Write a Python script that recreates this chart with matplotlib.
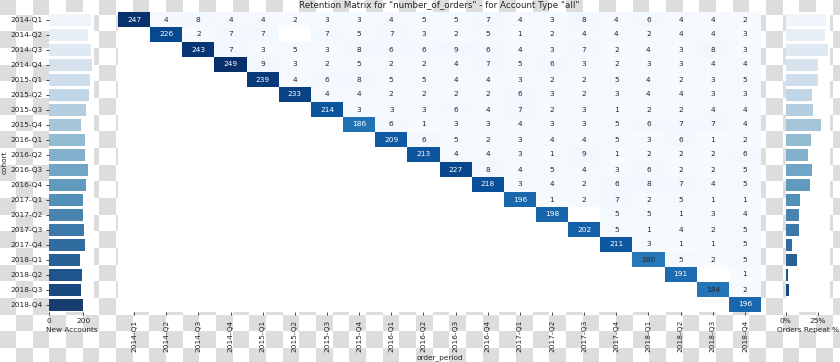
import colorsys
import numpy as np
import matplotlib
matplotlib.use("Agg")
import matplotlib.pyplot as plt
from matplotlib.ticker import FuncFormatter

periods = [f"{y}-Q{q}" for y in range(2014, 2019) for q in range(1, 5)]
cohorts = list(periods)
nan = np.nan

# each row starts at the cohort's own period
rows = [
    [247, 4, 8, 4, 4, 2, 3, 3, 4, 5, 5, 7, 4, 3, 8, 4, 6, 4, 4, 2],
    [226, 2, 7, 7, nan, 7, 5, 7, 3, 2, 5, 1, 2, 4, 4, 2, 4, 4, 3],
    [243, 7, 3, 5, 3, 8, 6, 6, 9, 6, 4, 3, 7, 2, 4, 3, 8, 3],
    [249, 9, 3, 2, 5, 2, 2, 4, 7, 5, 6, 3, 2, 3, 3, 4, 4],
    [239, 4, 6, 8, 5, 5, 4, 4, 3, 2, 2, 5, 4, 2, 3, 5],
    [233, 4, 4, 2, 2, 2, 2, 6, 3, 2, 3, 4, 4, 3, 3],
    [214, 3, 3, 3, 6, 4, 7, 2, 3, 1, 2, 2, 4, 4],
    [186, 6, 1, 3, 3, 4, 3, 3, 5, 6, 7, 7, 4],
    [209, 6, 5, 2, 3, 4, 4, 5, 3, 6, 1, 2],
    [213, 4, 4, 3, 1, 9, 1, 2, 2, 2, 6],
    [227, 8, 4, 5, 4, 3, 6, 2, 2, 5],
    [218, 3, 4, 2, 6, 8, 7, 4, 5],
    [196, 1, 2, 7, 2, 5, 1, 1],
    [198, nan, 5, 5, 1, 3, 4],
    [202, 5, 1, 4, 2, 5],
    [211, 3, 1, 1, 5],
    [180, 5, 2, 5],
    [191, nan, 1],
    [184, 2],
    [196],
]

new_accounts = [r[0] for r in rows]
repeat_pct = [31.3, 30.3, 32.6, 24.7, 25.2, 20.4, 21.4, 27.0, 19.6, 17.3,
              20.1, 19.1, 10.9, 9.9, 10.4, 4.6, 8.4, 1.8, 2.3, 0.5]

n = len(periods)
M = np.full((n, n), np.nan)
for i, r in enumerate(rows):
    M[i, i:i + len(r)] = r

W, H = 840, 362
fig = plt.figure(figsize=(W / 100, H / 100), dpi=100)
fig.patch.set_alpha(0)

# transparent-background checkerboard
sq = 16.667
x0, y0 = -0.5, -2.0
nc, nr = int(np.ceil(W / sq)) + 2, int(np.ceil(H / sq)) + 2
chk = (np.add.outer(np.arange(nr), np.arange(nc)) % 2 == 0)
img = np.where(chk[..., None], np.array([0.867, 0.867, 0.867]), np.array([1.0, 1.0, 1.0]))
bg = fig.add_axes([0, 0, 1, 1], zorder=-10)
bg.imshow(img, extent=[x0, x0 + nc * sq, y0 + nr * sq, y0], interpolation="nearest", aspect="auto")
bg.set_xlim(0, W); bg.set_ylim(H, 0); bg.axis("off")

fs = 5.3
tc = "#262626"
def fx(px): return px / W
def fy(px): return 1 - px / H

top, bot = 12, 312
ax_h = fig.add_axes([fx(118), fy(bot), fx(761 - 118), (bot - top) / H])
ax_l = fig.add_axes([fx(49), fy(bot), fx(44.8), (bot - top) / H])
ax_r = fig.add_axes([fx(785.7), fy(bot), fx(44.3), (bot - top) / H])

cmap = plt.get_cmap("Blues")
vmin, vmax = np.nanmin(M), np.nanmax(M)
ax_h.pcolormesh(np.ma.masked_invalid(M), cmap=cmap, vmin=vmin, vmax=vmax)
ax_h.set_facecolor("white")
ax_h.set_xlim(0, n); ax_h.set_ylim(n, 0)
norm = plt.Normalize(vmin, vmax)
for i in range(n):
    for j in range(n):
        v = M[i, j]
        if np.isnan(v):
            continue
        c = np.array(cmap(norm(v))[:3])
        lum = 0.2126 * c[0] + 0.7152 * c[1] + 0.0722 * c[2]
        ax_h.text(j + 0.5, i + 0.5, f"{int(v)}", ha="center", va="center",
                  fontsize=fs, color="white" if lum < 0.408 else tc)
ax_h.set_xticks(np.arange(n) + 0.5)
ax_h.set_xticklabels(periods, rotation=90, fontsize=fs, color=tc)
ax_h.set_yticks([])
ax_h.tick_params(axis="x", length=2.5, width=0.6, pad=3, colors=tc)
ax_h.set_xlabel("order_period", fontsize=fs, color=tc, labelpad=1.5)
ax_h.set_title('Retention Matrix for "number_of_orders" - for Account Type "all"',
               fontsize=6.3, color=tc, pad=3)
for s in ax_h.spines.values():
    s.set_visible(False)


def desat(rgb, prop=0.75):
    h, l, s = colorsys.rgb_to_hls(*rgb[:3])
    return colorsys.hls_to_rgb(h, l, s * prop)


pal = [desat(cmap(x)) for x in np.linspace(0, 1, n + 2)[1:-1]]
ypos = np.arange(n)
ax_l.barh(ypos, new_accounts, height=0.8, color=pal)
ax_l.set_xlim(0, max(new_accounts) * 1.05)
ax_l.set_ylim(n - 0.5, -0.5)
ax_l.set_yticks(ypos)
ax_l.set_yticklabels(cohorts, fontsize=fs)
ax_l.set_xticks([0, 200])
ax_l.tick_params(labelsize=fs, length=2.5, width=0.6, pad=2, colors=tc)
ax_l.set_xlabel("New Accounts", fontsize=fs, color=tc, labelpad=2)
ax_l.set_ylabel("cohort", fontsize=fs, color=tc, labelpad=2)

ax_r.barh(ypos, repeat_pct, height=0.8, color=pal)
ax_r.set_xlim(0, max(repeat_pct) * 1.05)
ax_r.set_ylim(n - 0.5, -0.5)
ax_r.set_yticks([])
ax_r.set_xticks([0, 25])
ax_r.xaxis.set_major_formatter(FuncFormatter(lambda v, p: f"{v:.0f}%"))
ax_r.tick_params(labelsize=fs, length=2.5, width=0.6, pad=2, colors=tc)
ax_r.set_xlabel("Orders Repeat %", fontsize=fs, color=tc, labelpad=2)

for a in (ax_l, ax_r):
    a.set_facecolor("white")
    for s in a.spines.values():
        s.set_visible(False)

fig.savefig("out.png", dpi=100)
